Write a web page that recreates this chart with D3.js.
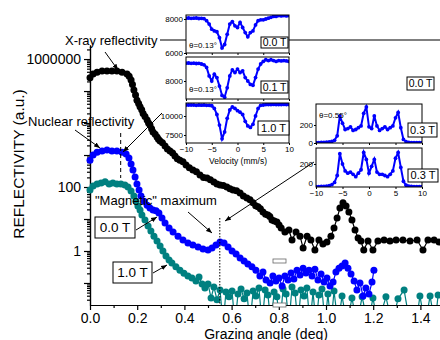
<!DOCTYPE html>
<html>
<head>
<meta charset="utf-8">
<script src="https://cdn.jsdelivr.net/npm/d3@7"></script>
<style>
  body { margin: 0; background: #fff; }
  svg { font-family: "Liberation Sans", Arial, sans-serif; }
</style>
</head>
<body>
<svg id="chart" width="440" height="340"></svg>
<script>
// X-ray reflectivity (black)
const xrayAngle = [0.000,0.013,0.030,0.051,0.072,0.093,0.114,0.136,0.157,0.166,
  0.174,0.180,0.186,0.193,0.199,0.206,0.212,0.219,0.225,0.233,
  0.242,0.248,0.254,0.261,0.267,0.276,0.284,0.290,0.297,0.307,
  0.318,0.328,0.339,0.350,0.360,0.370,0.381,0.394,0.407,0.421,
  0.436,0.451,0.466,0.481,0.496,0.510,0.525,0.538,0.551,0.565,
  0.580,0.593,0.606,0.621,0.636,0.650,0.665,0.678,0.691,0.702,
  0.712,0.722,0.733,0.744,0.754,0.762,0.771,0.781,0.792,0.801,
  0.810,0.826,0.843,0.856,0.873,0.890,0.903,0.920,0.936,0.953,
  0.970,0.987,1.004,1.021,1.034,1.047,1.059,1.072,1.085,1.097,
  1.110,1.123,1.136,1.148,1.160,1.178,1.199,1.220,1.246,1.271,
  1.297,1.326,1.356,1.386,1.411,1.432,1.458,1.479];
const xrayValue = [2.6e5,3.4e5,3.9e5,4.2e5,4.2e5,4.2e5,4.2e5,3.9e5,3.4e5,2.9e5,
  2.2e5,1.6e5,1.07e5,7.5e4,5.2e4,4.1e4,3.2e4,2.6e4,2.0e4,1.6e4,
  1.24e4,1.0e4,8700,6600,5200,4500,3650,3100,2750,2400,
  1900,1550,1330,1150,930,760,690,620,490,400,
  340,300,237,200,190,170,144,125,115,112,
  100,88,81,76,65,52,45,40,32,26,
  24,21,16.5,14,13.3,12,9.3,8.6,8.1,6.5,
  5.2,3.9,4.5,2.2,3.9,2.9,1.24,2.9,2.2,1.07,
  2.2,1.65,1.9,2.9,5.2,10.7,22,32,25.5,16.5,
  9.3,4.5,2.55,2.05,1.07,2.05,1.07,2.05,2.2,2.05,
  2.2,2.2,2.05,2.2,1.07,2.2,2.2,1.9];

// nuclear reflectivity, 0.0 T (blue)
const zeroFieldAngle = [0.000,0.013,0.030,0.051,0.072,0.093,0.114,0.136,0.153,0.165,
  0.174,0.182,0.191,0.199,0.208,0.216,0.229,0.242,0.254,0.267,
  0.280,0.292,0.305,0.318,0.335,0.352,0.373,0.394,0.415,0.436,
  0.458,0.479,0.500,0.517,0.534,0.551,0.568,0.585,0.602,0.619,
  0.636,0.653,0.669,0.686,0.703,0.720,0.733,0.746,0.763,0.775,
  0.788,0.801,0.814,0.826,0.839,0.852,0.864,0.877,0.890,0.903,
  0.915,0.928,0.941,0.953,0.966,0.979,0.992,1.004,1.017,1.030,
  1.042,1.055,1.068,1.081,1.093,1.106,1.119,1.131,1.144,1.157,
  1.169,1.182,1.195,1.203];
const zeroFieldValue = [690,1000,1230,1330,1440,1330,1330,1230,1070,810,
  525,340,205,124,81,52,36,27,22,19,
  18,15.4,10.7,7.5,5.2,3.9,2.9,2.2,1.78,1.54,
  1.33,1.15,1.07,1.24,1.54,1.91,1.78,1.33,1.0,0.81,
  0.6,0.49,0.39,0.32,0.25,0.166,0.22,0.124,0.1,0.166,
  0.115,0.143,0.081,0.166,0.124,0.205,0.134,0.25,0.178,0.29,
  0.205,0.25,0.166,0.27,0.124,0.19,0.107,0.143,0.081,0.107,
  0.22,0.29,0.34,0.42,0.29,0.19,0.115,0.06,0.1,0.039,
  0.07,0.045,0.107,0.25];

// nuclear reflectivity, 1.0 T (teal)
const fieldAngle = [0.000,0.013,0.030,0.047,0.064,0.081,0.097,0.114,0.131,0.148,
  0.161,0.174,0.186,0.195,0.203,0.212,0.220,0.233,0.246,0.258,
  0.271,0.284,0.297,0.309,0.322,0.335,0.347,0.364,0.381,0.398,
  0.415,0.432,0.449,0.462,0.475,0.487,0.500,0.513,0.525,0.538,
  0.551,0.564,0.576,0.589,0.602,0.614,0.627,0.640,0.653,0.665,
  0.678,0.691,0.703,0.716,0.729,0.742,0.754,0.767,0.780,0.792,
  0.805,0.818,0.831,0.843,0.856,0.869,0.881,0.894,0.907,0.919,
  0.932,0.945,0.958,0.970,0.983,0.996,1.008,1.021,1.034,1.051,
  1.068,1.089,1.110,1.131,1.153,1.178,1.199,1.220,1.254,1.280,
  1.305,1.331,1.356,1.381,1.398,1.420,1.441,1.462,1.475];
const fieldValue = [81,107,124,133,145,124,133,124,124,115,
  100,75,52,36,25.5,19,13.3,9.3,6.0,4.2,
  2.9,2.05,1.43,1.0,0.7,0.52,0.42,0.32,0.25,0.2,
  0.166,0.143,0.115,0.155,0.093,0.07,0.093,0.034,0.075,0.03,
  0.06,0.005,0.052,0.037,0.056,0.005,0.045,0.065,0.032,0.049,
  0.005,0.056,0.039,0.07,0.005,0.06,0.042,0.005,0.052,0.037,
  0.005,0.065,0.045,0.005,0.075,0.049,0.005,0.06,0.039,0.07,
  0.005,0.052,0.005,0.042,0.065,0.005,0.045,0.005,0.056,0.005,
  0.039,0.005,0.034,0.005,0.037,0.005,0.034,0.005,0.037,0.005,
  0.032,0.06,0.005,0.005,0.039,0.005,0.039,0.005,0.042];

// Mossbauer insets
const velocity = [-10,-9.5,-9,-8.5,-8,-7.5,-7,-6.5,-6,-5.5,-5,-4.5,-4,-3.5,-3,-2.5,-2,-1.5,-1,-0.5,
  0,0.5,1,1.5,2,2.5,3,3.5,4,4.5,5,5.5,6,6.5,7,7.5,8,8.5,9,9.5,10];
const spec00 = [8050,8060,8040,8050,8060,8030,8040,8020,7900,7700,
  7400,7300,7250,6900,6300,6500,7100,7700,7850,7600,
  7500,7800,7500,7200,6950,7200,7300,7650,7900,7950,
  7950,8000,8050,8100,8150,8150,8200,8180,8200,8180,8200];
const spec01 = [9050,9060,9040,9050,9030,9040,9000,8950,8800,8300,
  8000,8400,8200,7700,7150,7050,7600,8300,8650,8500,
  8700,8500,8600,8200,8000,7800,7750,8200,8700,9000,
  9150,9250,9200,9250,9200,9150,9200,9180,9200,9180,9150];
const spec10 = [11450,11450,11450,11450,11400,11450,11420,11450,11400,11400,
  11350,11000,10200,8800,7000,7900,9700,10800,11200,11000,
  10700,10500,10200,9300,8700,8500,8900,10000,11000,11400,
  11450,11500,11500,11500,11520,11500,11500,11500,11520,11500,11500];
const spec03a = [5,5,8,6,10,12,18,30,80,300,
  220,150,160,180,140,150,170,190,330,400,
  180,160,300,190,140,160,180,150,170,190,
  280,340,170,40,15,8,5,5,3,5,3];
const spec03b = [3,3,5,5,8,12,20,40,100,290,
  200,140,120,130,110,90,120,150,300,240,
  120,180,240,130,110,110,100,90,110,140,
  250,300,170,50,15,8,5,4,3,3,3];

const svg = d3.select("#chart");
const font = "\"Liberation Sans\", Arial, sans-serif";

svg.append("defs").append("marker")
  .attr("id", "ah").attr("viewBox", "0 0 10 10")
  .attr("refX", 10).attr("refY", 5)
  .attr("markerWidth", 6).attr("markerHeight", 6)
  .attr("orient", "auto")
  .append("path").attr("d", "M0,1L10,5L0,9z").attr("fill", "#000");

svg.select("defs").append("clipPath").attr("id", "plotClip")
  .append("rect").attr("x", 84).attr("y", 40).attr("width", 360).attr("height", 265);

// main scales
const x = d3.scaleLinear().domain([0, 1.5]).range([90, 444]);
const y = d3.scaleLog().domain([0.0205, 2.75e6]).range([305, 45]);

// axes
svg.append("g").attr("transform", "translate(0,305)")
  .call(d3.axisBottom(x).tickValues([0, 0.2, 0.4, 0.6, 0.8, 1.0, 1.2, 1.4])
    .tickFormat(d3.format(".1f")).tickSize(5).tickSizeOuter(0).tickPadding(3));
svg.append("g").attr("transform", "translate(0,305)")
  .call(d3.axisBottom(x).tickValues([0.1, 0.3, 0.5, 0.7, 0.9, 1.1, 1.3])
    .tickFormat("").tickSize(3).tickSizeOuter(0));

const decades = [0.1, 1, 10, 100, 1e3, 1e4, 1e5, 1e6];
const minor = [];
[0.01, 0.1, 1, 10, 100, 1e3, 1e4, 1e5, 1e6].forEach(dec => {
  for (let k = 2; k <= 9; k++) {
    const v = dec * k;
    if (v > y.domain()[0] && v < y.domain()[1]) minor.push(v);
  }
});
svg.append("g").attr("transform", "translate(90,0)")
  .call(d3.axisLeft(y).tickValues(minor).tickFormat("").tickSize(3).tickSizeOuter(0));
svg.append("g").attr("transform", "translate(90,0)")
  .call(d3.axisLeft(y).tickValues(decades)
    .tickFormat(d => (d === 1 || d === 100 || d === 1e6) ? d3.format("d")(d) : "")
    .tickSize(6).tickSizeOuter(0).tickPadding(3));

svg.selectAll(".tick text").attr("font-size", 14).attr("font-family", font).attr("fill", "#000");
svg.selectAll(".domain, .tick line").attr("stroke", "#000").attr("stroke-width", 1.2);

// axis titles
svg.append("text").attr("x", 266).attr("y", 339).attr("text-anchor", "middle")
  .attr("font-size", 14).text("Grazing angle (deg)");
svg.append("text").attr("transform", "translate(24,164) rotate(-90)")
  .attr("text-anchor", "middle").attr("font-size", 15.5).text("REFLECTIVITY (a.u.)");

// series
const plot = svg.append("g").attr("clip-path", "url(#plotClip)");
const line = d3.line().x(d => x(d[0])).y(d => y(d[1]));
const series = [
  {angle: fieldAngle, value: fieldValue, color: "#008080"},
  {angle: zeroFieldAngle, value: zeroFieldValue, color: "#0000ff"},
  {angle: xrayAngle, value: xrayValue, color: "#000000"}
];
series.forEach(s => {
  const pts = d3.zip(s.angle, s.value);
  plot.append("path").datum(pts).attr("d", line)
    .attr("fill", "none").attr("stroke", s.color).attr("stroke-width", 1.2);
  plot.selectAll(null).data(pts).enter().append("circle")
    .attr("cx", d => x(d[0])).attr("cy", d => y(d[1])).attr("r", 3.5)
    .attr("fill", s.color);
});

// reference lines
svg.append("line").attr("x1", x(0.13)).attr("x2", x(0.13)).attr("y1", 133).attr("y2", 178)
  .attr("stroke", "#000").attr("stroke-dasharray", "4,3");
svg.append("line").attr("x1", x(0.55)).attr("x2", x(0.55)).attr("y1", 218).attr("y2", 305)
  .attr("stroke", "#000").attr("stroke-dasharray", "1.5,1.5");

// annotations
function arrow(x1, y1, x2, y2) {
  svg.append("line").attr("x1", x1).attr("y1", y1).attr("x2", x2).attr("y2", y2)
    .attr("stroke", "#000").attr("stroke-width", 1).attr("marker-end", "url(#ah)");
}
svg.append("line").attr("x1", 160).attr("x2", 440).attr("y1", 40).attr("y2", 40)
  .attr("stroke", "#000").attr("stroke-width", 1.2);
svg.append("text").attr("x", 65).attr("y", 44.5).attr("font-size", 13).text("X-ray reflectivity");
arrow(105, 52, 118, 70);
svg.append("text").attr("x", 28).attr("y", 126).attr("font-size", 13).text("Nuclear reflectivity");
arrow(75, 130, 100, 148);
arrow(162, 113, 123, 152);
svg.append("text").attr("x", 95).attr("y", 204.5).attr("font-size", 13).text("\"Magnetic\" maximum");
arrow(188, 212, 212, 233);
arrow(314, 162, 225, 221);

function labelBox(bx, by, w, h, txt, fs) {
  svg.append("rect").attr("x", bx).attr("y", by).attr("width", w).attr("height", h)
    .attr("fill", "#fff").attr("stroke", "#000").attr("stroke-width", 1);
  svg.append("text").attr("x", bx + w / 2).attr("y", by + h / 2 + fs * 0.36)
    .attr("text-anchor", "middle").attr("font-size", fs).text(txt);
}
labelBox(95, 217, 40, 21, "0.0 T", 13.5);
arrow(136, 230, 157, 217);
labelBox(113, 262, 39, 21, "1.0 T", 13.5);
arrow(153, 273, 167, 265);

// stray legend boxes
[261, 305].forEach(by => {
  svg.append("rect").attr("x", 273).attr("y", by - 2).attr("width", 13).attr("height", 4)
    .attr("fill", "#fff").attr("stroke", "#666").attr("stroke-width", 0.8);
});

// insets
function inset(o) {
  const ix = d3.scaleLinear().domain([-10, 10]).range([o.x0, o.x1]);
  const iy = d3.scaleLinear().domain(o.dom).range([o.y1, o.y0]);
  const g = svg.append("g");
  g.append("rect").attr("x", o.x0).attr("y", o.y0).attr("width", o.x1 - o.x0).attr("height", o.y1 - o.y0)
    .attr("fill", "#fff");
  const cid = "clip" + o.id;
  svg.select("defs").append("clipPath").attr("id", cid).append("rect")
    .attr("x", o.x0).attr("y", o.y0).attr("width", o.x1 - o.x0).attr("height", o.y1 - o.y0);
  const pts = d3.zip(velocity, o.values);
  const body = g.append("g").attr("clip-path", "url(#" + cid + ")");
  body.append("path").datum(pts)
    .attr("d", d3.line().x(d => ix(d[0])).y(d => iy(d[1])))
    .attr("fill", "none").attr("stroke", "#0000ff").attr("stroke-width", 2);
  body.selectAll(null).data(pts).enter().append("circle")
    .attr("cx", d => ix(d[0])).attr("cy", d => iy(d[1])).attr("r", 1.9).attr("fill", "#0000ff");
  g.append("g").attr("transform", `translate(${o.x0},0)`)
    .call(d3.axisLeft(iy).tickValues(o.ticks).tickFormat(d3.format("d"))
      .tickSize(2).tickSizeOuter(0).tickPadding(1));
  g.append("g").attr("transform", `translate(0,${o.y1})`)
    .call(d3.axisBottom(ix).tickValues([-10, -5, 0, 5, 10]).tickSize(2).tickSizeOuter(0).tickPadding(1.5)
      .tickFormat(o.xlabels ? d3.format("d") : ""));
  g.append("rect").attr("x", o.x0).attr("y", o.y0).attr("width", o.x1 - o.x0).attr("height", o.y1 - o.y0)
    .attr("fill", "none").attr("stroke", "#000").attr("stroke-width", 1);
  g.selectAll(".tick text").attr("font-size", 8).attr("font-family", font).attr("fill", "#000");
  g.selectAll(".domain").remove();
  g.selectAll(".tick line").attr("stroke", "#000");
  if (o.theta) {
    g.append("text").attr("x", o.x0 + 3).attr("y", o.thetaY).attr("font-size", 8).text(o.theta);
  }
}
inset({id: 1, x0: 186, x1: 289, y0: 15, y1: 53, dom: [6000, 8235], ticks: [6000, 8000], values: spec00, theta: "θ=0.13°", thetaY: 48});
inset({id: 2, x0: 186, x1: 289, y0: 57, y1: 99, dom: [6941, 9412], ticks: [8000], values: spec01, theta: "θ=0.13°", thetaY: 92});
inset({id: 3, x0: 186, x1: 289, y0: 103, y1: 143, dom: [6447, 11711], ticks: [7500, 10000], values: spec10, xlabels: true});
inset({id: 4, x0: 316, x1: 422, y0: 104, y1: 143, dom: [0, 433], ticks: [0, 200], values: spec03a, theta: "θ=0.55°", thetaY: 118});
inset({id: 5, x0: 316, x1: 422, y0: 148, y1: 187, dom: [0, 339], ticks: [200], values: spec03b, xlabels: true});
svg.append("text").attr("x", 313).attr("y", 186).attr("text-anchor", "end")
  .attr("font-size", 8).text("0");

svg.append("text").attr("x", 238).attr("y", 164).attr("text-anchor", "middle")
  .attr("font-size", 8.5).text("Velocity (mm/s)");

labelBox(261, 37, 27, 11, "0.0 T", 10.5);
labelBox(261, 81, 27, 12, "0.1 T", 10.5);
labelBox(258, 121, 31, 14, "1.0 T", 11);
labelBox(408, 123, 29, 14, "0.3 T", 11);
labelBox(408, 169, 30, 13, "0.3 T", 11);
labelBox(407, 77, 27, 13, "0.0 T", 10.5);
</script>
</body>
</html>
